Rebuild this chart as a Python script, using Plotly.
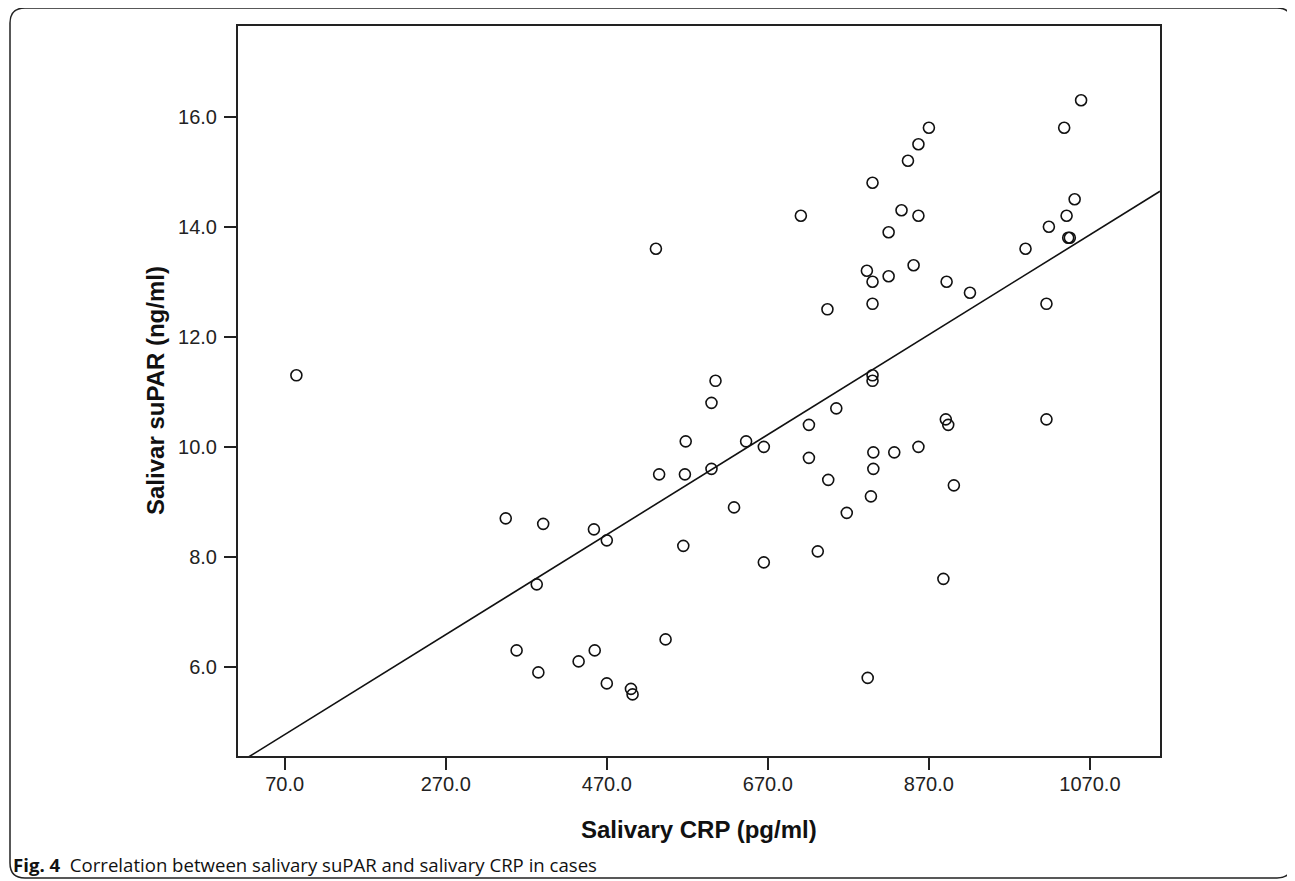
import numpy as np
import plotly.graph_objects as go

# Salivary CRP (pg/ml) and salivary suPAR (ng/ml)
crp = [84.5, 344.5, 391, 454, 470, 383, 358, 385, 435, 455, 470, 500, 502, 543,
       531, 535, 567, 568, 565, 600, 605, 600, 628, 643, 665, 665, 711, 721, 721,
       732, 744, 745, 755, 768, 793, 800, 800, 800, 800, 800, 801, 801, 798, 794,
       820, 820, 827, 836, 844, 851, 857, 857, 857, 870, 892, 891, 894, 901, 888,
       921, 990, 1016, 1016, 1019, 1038, 1041, 1043, 1045, 1051, 1059]
supar = [11.3, 8.7, 8.6, 8.5, 8.3, 7.5, 6.3, 5.9, 6.1, 6.3, 5.7, 5.6, 5.5, 6.5,
         13.6, 9.5, 9.5, 10.1, 8.2, 10.8, 11.2, 9.6, 8.9, 10.1, 10.0, 7.9, 14.2, 10.4, 9.8,
         8.1, 12.5, 9.4, 10.7, 8.8, 13.2, 13.0, 12.6, 14.8, 11.3, 11.2, 9.9, 9.6, 9.1, 5.8,
         13.1, 13.9, 9.9, 14.3, 15.2, 13.3, 15.5, 14.2, 10.0, 15.8, 13.0, 10.5, 10.4, 9.3, 7.6,
         12.8, 13.6, 12.6, 10.5, 14.0, 15.8, 14.2, 13.8, 13.8, 14.5, 16.3]

x_ticks = [70, 270, 470, 670, 870, 1070]
y_ticks = [6, 8, 10, 12, 14, 16]
x_range = [12, 1157]
y_range = [4.38, 17.65]

x_title = "Salivary CRP (pg/ml)"
y_title = "Salivar suPAR (ng/ml)"
caption_bold = "Fig. 4"
caption_text = "Correlation between salivary suPAR and salivary CRP in cases"

# linear fit line (least squares) across the axis range
slope, intercept = np.polyfit(np.array(crp), np.array(supar), 1)
fit_x = np.array(x_range, dtype=float)
fit_y = intercept + slope * fit_x

fig = go.Figure()
fig.add_trace(go.Scatter(
    x=fit_x, y=fit_y, mode="lines",
    line=dict(color="#111111", width=1.6),
    hoverinfo="skip", showlegend=False,
))
fig.add_trace(go.Scatter(
    x=crp, y=supar, mode="markers",
    marker=dict(symbol="circle-open", size=11, color="#111111",
                line=dict(width=1.6, color="#111111")),
    showlegend=False,
))

# page body has an 8px margin; lay the figure out in page pixels minus that offset
OFF = 8
W, H = 1295 - OFF, 881 - OFF
L, R, T, B = 238 - OFF, 1160 - OFF, 26 - OFF, 756 - OFF
pw, ph = R - L, B - T


def px(xp):
    return (xp - OFF - L) / pw


def py(yp):
    return (B - (yp - OFF)) / ph


axis_font = dict(family="Liberation Sans, Arial, sans-serif", size=20, color="#222222")

fig.update_layout(
    width=W, height=H,
    margin=dict(l=L, r=W - R, t=T, b=H - B, pad=0),
    paper_bgcolor="white", plot_bgcolor="white",
    xaxis=dict(range=x_range, tickvals=x_ticks, tickformat=".1f",
               showgrid=False, zeroline=False,
               showline=True, mirror=True, linecolor="#222222", linewidth=2,
               ticks="outside", ticklen=12, tickwidth=2, tickcolor="#222222",
               ticklabelstandoff=-3, tickfont=axis_font),
    yaxis=dict(range=y_range, tickvals=y_ticks, tickformat=".1f",
               showgrid=False, zeroline=False,
               showline=True, mirror=True, linecolor="#222222", linewidth=2,
               ticks="outside", ticklen=12, tickwidth=2, tickcolor="#222222",
               ticklabelstandoff=3, tickfont=axis_font),
)

# axis titles
fig.add_annotation(text="<b>" + x_title + "</b>", xref="paper", yref="paper",
                   x=0.5, y=py(830), xanchor="center", yanchor="middle",
                   showarrow=False,
                   font=dict(family="Liberation Sans, Arial, sans-serif", size=24, color="#111111"))
fig.add_annotation(text="<b>" + y_title + "</b>", xref="paper", yref="paper",
                   x=px(155), y=0.5, xanchor="center", yanchor="middle",
                   textangle=-90, showarrow=False,
                   font=dict(family="Liberation Sans, Arial, sans-serif", size=24, color="#111111"))

# caption
fig.add_annotation(text="<b>" + caption_bold + "</b>\u00a0\u00a0" + caption_text,
                   xref="paper", yref="paper",
                   x=px(11), y=py(864), xanchor="left", yanchor="middle",
                   showarrow=False,
                   font=dict(family="Open Sans, sans-serif", size=18.6, color="#111111"))

# rounded outer frame
x0, x1 = px(10), px(1292)
y0, y1 = py(878), py(8)
rx, ry = 15 / pw, 15 / ph
path = (f"M {x0+rx},{y1} L {x1-rx},{y1} Q {x1},{y1} {x1},{y1-ry} "
        f"L {x1},{y0+ry} Q {x1},{y0} {x1-rx},{y0} "
        f"L {x0+rx},{y0} Q {x0},{y0} {x0},{y0+ry} "
        f"L {x0},{y1-ry} Q {x0},{y1} {x0+rx},{y1} Z")
fig.add_shape(type="path", path=path, xref="paper", yref="paper",
              line=dict(color="#222222", width=1.5), layer="below")

fig.write_html("out.html")
